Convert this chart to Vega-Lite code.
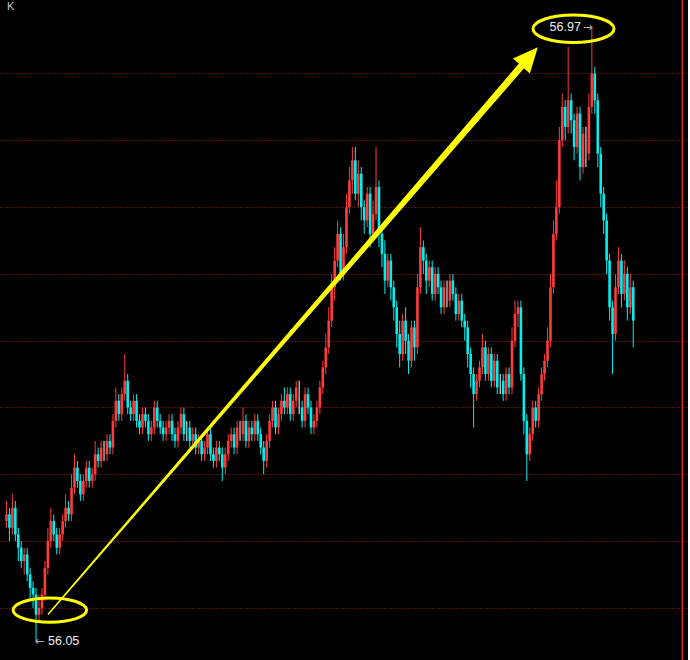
{
"$schema": "https://vega.github.io/schema/vega-lite/v6.json",
"width": 688, "height": 660, "autosize": "none", "padding": 0,
"background": "#000000",
"config": {"view": {"stroke": null}},
"datasets": {
"k": [
{"t":0,"o":56.23,"h":56.26,"l":56.22,"c":56.24},
{"t":1,"o":56.24,"h":56.25,"l":56.20,"c":56.22},
{"t":2,"o":56.22,"h":56.27,"l":56.21,"c":56.25},
{"t":3,"o":56.25,"h":56.26,"l":56.20,"c":56.21},
{"t":4,"o":56.21,"h":56.22,"l":56.17,"c":56.19},
{"t":5,"o":56.19,"h":56.20,"l":56.16,"c":56.17},
{"t":6,"o":56.17,"h":56.19,"l":56.15,"c":56.18},
{"t":7,"o":56.18,"h":56.19,"l":56.14,"c":56.15},
{"t":8,"o":56.15,"h":56.16,"l":56.11,"c":56.13},
{"t":9,"o":56.13,"h":56.14,"l":56.10,"c":56.12},
{"t":10,"o":56.12,"h":56.13,"l":56.05,"c":56.09},
{"t":11,"o":56.09,"h":56.12,"l":56.08,"c":56.10},
{"t":12,"o":56.10,"h":56.13,"l":56.09,"c":56.12},
{"t":13,"o":56.12,"h":56.17,"l":56.11,"c":56.16},
{"t":14,"o":56.16,"h":56.22,"l":56.15,"c":56.20},
{"t":15,"o":56.20,"h":56.25,"l":56.19,"c":56.23},
{"t":16,"o":56.23,"h":56.24,"l":56.20,"c":56.21},
{"t":17,"o":56.21,"h":56.22,"l":56.18,"c":56.19},
{"t":18,"o":56.19,"h":56.22,"l":56.18,"c":56.21},
{"t":19,"o":56.21,"h":56.24,"l":56.20,"c":56.23},
{"t":20,"o":56.23,"h":56.27,"l":56.22,"c":56.25},
{"t":21,"o":56.25,"h":56.26,"l":56.23,"c":56.24},
{"t":22,"o":56.24,"h":56.30,"l":56.23,"c":56.28},
{"t":23,"o":56.28,"h":56.33,"l":56.27,"c":56.31},
{"t":24,"o":56.31,"h":56.32,"l":56.28,"c":56.29},
{"t":25,"o":56.29,"h":56.30,"l":56.26,"c":56.27},
{"t":26,"o":56.27,"h":56.30,"l":56.26,"c":56.29},
{"t":27,"o":56.29,"h":56.32,"l":56.28,"c":56.31},
{"t":28,"o":56.31,"h":56.32,"l":56.28,"c":56.29},
{"t":29,"o":56.29,"h":56.31,"l":56.28,"c":56.30},
{"t":30,"o":56.30,"h":56.35,"l":56.29,"c":56.33},
{"t":31,"o":56.33,"h":56.34,"l":56.31,"c":56.32},
{"t":32,"o":56.32,"h":56.35,"l":56.31,"c":56.34},
{"t":33,"o":56.33,"h":56.35,"l":56.32,"c":56.33},
{"t":34,"o":56.33,"h":56.36,"l":56.32,"c":56.35},
{"t":35,"o":56.35,"h":56.36,"l":56.33,"c":56.34},
{"t":36,"o":56.34,"h":56.39,"l":56.33,"c":56.38},
{"t":37,"o":56.38,"h":56.43,"l":56.37,"c":56.41},
{"t":38,"o":56.41,"h":56.42,"l":56.38,"c":56.39},
{"t":39,"o":56.39,"h":56.43,"l":56.38,"c":56.42},
{"t":40,"o":56.42,"h":56.48,"l":56.41,"c":56.44},
{"t":41,"o":56.44,"h":56.45,"l":56.39,"c":56.40},
{"t":42,"o":56.40,"h":56.41,"l":56.38,"c":56.39},
{"t":43,"o":56.39,"h":56.42,"l":56.38,"c":56.41},
{"t":44,"o":56.41,"h":56.42,"l":56.37,"c":56.38},
{"t":45,"o":56.38,"h":56.39,"l":56.36,"c":56.37},
{"t":46,"o":56.37,"h":56.40,"l":56.36,"c":56.39},
{"t":47,"o":56.39,"h":56.40,"l":56.37,"c":56.38},
{"t":48,"o":56.38,"h":56.39,"l":56.35,"c":56.36},
{"t":49,"o":56.36,"h":56.38,"l":56.35,"c":56.37},
{"t":50,"o":56.37,"h":56.41,"l":56.36,"c":56.40},
{"t":51,"o":56.40,"h":56.41,"l":56.37,"c":56.38},
{"t":52,"o":56.38,"h":56.39,"l":56.36,"c":56.37},
{"t":53,"o":56.37,"h":56.38,"l":56.35,"c":56.36},
{"t":54,"o":56.36,"h":56.38,"l":56.35,"c":56.37},
{"t":55,"o":56.37,"h":56.39,"l":56.36,"c":56.38},
{"t":56,"o":56.38,"h":56.39,"l":56.35,"c":56.36},
{"t":57,"o":56.36,"h":56.37,"l":56.34,"c":56.35},
{"t":58,"o":56.35,"h":56.38,"l":56.34,"c":56.37},
{"t":59,"o":56.37,"h":56.40,"l":56.36,"c":56.39},
{"t":60,"o":56.39,"h":56.40,"l":56.35,"c":56.36},
{"t":61,"o":56.37,"h":56.38,"l":56.35,"c":56.37},
{"t":62,"o":56.37,"h":56.38,"l":56.34,"c":56.35},
{"t":63,"o":56.35,"h":56.37,"l":56.34,"c":56.36},
{"t":64,"o":56.36,"h":56.37,"l":56.33,"c":56.34},
{"t":65,"o":56.34,"h":56.36,"l":56.33,"c":56.35},
{"t":66,"o":56.35,"h":56.36,"l":56.32,"c":56.33},
{"t":67,"o":56.33,"h":56.35,"l":56.32,"c":56.34},
{"t":68,"o":56.34,"h":56.37,"l":56.33,"c":56.36},
{"t":69,"o":56.36,"h":56.37,"l":56.32,"c":56.33},
{"t":70,"o":56.33,"h":56.34,"l":56.31,"c":56.32},
{"t":71,"o":56.32,"h":56.35,"l":56.31,"c":56.34},
{"t":72,"o":56.34,"h":56.35,"l":56.32,"c":56.33},
{"t":73,"o":56.33,"h":56.34,"l":56.29,"c":56.31},
{"t":74,"o":56.31,"h":56.34,"l":56.30,"c":56.33},
{"t":75,"o":56.33,"h":56.36,"l":56.32,"c":56.35},
{"t":76,"o":56.35,"h":56.37,"l":56.34,"c":56.36},
{"t":77,"o":56.36,"h":56.37,"l":56.33,"c":56.34},
{"t":78,"o":56.34,"h":56.38,"l":56.33,"c":56.37},
{"t":79,"o":56.36,"h":56.38,"l":56.35,"c":56.36},
{"t":80,"o":56.36,"h":56.40,"l":56.35,"c":56.38},
{"t":81,"o":56.38,"h":56.39,"l":56.34,"c":56.35},
{"t":82,"o":56.35,"h":56.38,"l":56.34,"c":56.37},
{"t":83,"o":56.37,"h":56.38,"l":56.35,"c":56.36},
{"t":84,"o":56.36,"h":56.39,"l":56.35,"c":56.38},
{"t":85,"o":56.38,"h":56.39,"l":56.35,"c":56.36},
{"t":86,"o":56.36,"h":56.37,"l":56.33,"c":56.34},
{"t":87,"o":56.34,"h":56.35,"l":56.30,"c":56.32},
{"t":88,"o":56.32,"h":56.36,"l":56.31,"c":56.35},
{"t":89,"o":56.35,"h":56.39,"l":56.34,"c":56.38},
{"t":90,"o":56.38,"h":56.41,"l":56.37,"c":56.40},
{"t":91,"o":56.40,"h":56.41,"l":56.36,"c":56.37},
{"t":92,"o":56.37,"h":56.40,"l":56.36,"c":56.39},
{"t":93,"o":56.39,"h":56.42,"l":56.38,"c":56.41},
{"t":94,"o":56.41,"h":56.43,"l":56.39,"c":56.40},
{"t":95,"o":56.40,"h":56.43,"l":56.39,"c":56.42},
{"t":96,"o":56.42,"h":56.43,"l":56.38,"c":56.39},
{"t":97,"o":56.39,"h":56.42,"l":56.38,"c":56.41},
{"t":98,"o":56.41,"h":56.44,"l":56.40,"c":56.43},
{"t":99,"o":56.40,"h":56.44,"l":56.39,"c":56.40},
{"t":100,"o":56.40,"h":56.41,"l":56.37,"c":56.38},
{"t":101,"o":56.38,"h":56.43,"l":56.37,"c":56.42},
{"t":102,"o":56.42,"h":56.43,"l":56.39,"c":56.40},
{"t":103,"o":56.40,"h":56.41,"l":56.36,"c":56.37},
{"t":104,"o":56.37,"h":56.39,"l":56.36,"c":56.38},
{"t":105,"o":56.38,"h":56.41,"l":56.37,"c":56.40},
{"t":106,"o":56.40,"h":56.44,"l":56.39,"c":56.43},
{"t":107,"o":56.43,"h":56.47,"l":56.42,"c":56.46},
{"t":108,"o":56.46,"h":56.51,"l":56.45,"c":56.49},
{"t":109,"o":56.49,"h":56.55,"l":56.48,"c":56.53},
{"t":110,"o":56.53,"h":56.60,"l":56.52,"c":56.58},
{"t":111,"o":56.58,"h":56.64,"l":56.56,"c":56.62},
{"t":112,"o":56.62,"h":56.68,"l":56.61,"c":56.66},
{"t":113,"o":56.66,"h":56.67,"l":56.59,"c":56.60},
{"t":114,"o":56.60,"h":56.66,"l":56.59,"c":56.64},
{"t":115,"o":56.64,"h":56.72,"l":56.63,"c":56.70},
{"t":116,"o":56.70,"h":56.76,"l":56.69,"c":56.74},
{"t":117,"o":56.74,"h":56.79,"l":56.72,"c":56.77},
{"t":118,"o":56.77,"h":56.79,"l":56.71,"c":56.72},
{"t":119,"o":56.72,"h":56.77,"l":56.70,"c":56.75},
{"t":120,"o":56.75,"h":56.76,"l":56.68,"c":56.70},
{"t":121,"o":56.70,"h":56.71,"l":56.66,"c":56.68},
{"t":122,"o":56.68,"h":56.73,"l":56.67,"c":56.72},
{"t":123,"o":56.72,"h":56.73,"l":56.64,"c":56.66},
{"t":124,"o":56.66,"h":56.71,"l":56.65,"c":56.69},
{"t":125,"o":56.69,"h":56.79,"l":56.68,"c":56.73},
{"t":126,"o":56.73,"h":56.74,"l":56.64,"c":56.66},
{"t":127,"o":56.66,"h":56.67,"l":56.61,"c":56.63},
{"t":128,"o":56.63,"h":56.65,"l":56.57,"c":56.59},
{"t":129,"o":56.59,"h":56.63,"l":56.58,"c":56.62},
{"t":130,"o":56.62,"h":56.63,"l":56.56,"c":56.58},
{"t":131,"o":56.58,"h":56.59,"l":56.53,"c":56.55},
{"t":132,"o":56.55,"h":56.56,"l":56.49,"c":56.51},
{"t":133,"o":56.51,"h":56.53,"l":56.46,"c":56.48},
{"t":134,"o":56.48,"h":56.54,"l":56.47,"c":56.53},
{"t":135,"o":56.53,"h":56.55,"l":56.48,"c":56.50},
{"t":136,"o":56.50,"h":56.51,"l":56.45,"c":56.47},
{"t":137,"o":56.47,"h":56.53,"l":56.46,"c":56.52},
{"t":138,"o":56.52,"h":56.53,"l":56.47,"c":56.49},
{"t":139,"o":56.49,"h":56.60,"l":56.48,"c":56.58},
{"t":140,"o":56.58,"h":56.67,"l":56.57,"c":56.64},
{"t":141,"o":56.64,"h":56.65,"l":56.60,"c":56.62},
{"t":142,"o":56.62,"h":56.63,"l":56.57,"c":56.59},
{"t":143,"o":56.59,"h":56.62,"l":56.58,"c":56.61},
{"t":144,"o":56.61,"h":56.62,"l":56.56,"c":56.57},
{"t":145,"o":56.57,"h":56.61,"l":56.56,"c":56.60},
{"t":146,"o":56.60,"h":56.61,"l":56.57,"c":56.58},
{"t":147,"o":56.58,"h":56.59,"l":56.54,"c":56.55},
{"t":148,"o":56.55,"h":56.59,"l":56.54,"c":56.58},
{"t":149,"o":56.56,"h":56.59,"l":56.55,"c":56.56},
{"t":150,"o":56.56,"h":56.60,"l":56.55,"c":56.59},
{"t":151,"o":56.59,"h":56.60,"l":56.56,"c":56.57},
{"t":152,"o":56.57,"h":56.58,"l":56.53,"c":56.54},
{"t":153,"o":56.54,"h":56.57,"l":56.53,"c":56.56},
{"t":154,"o":56.56,"h":56.57,"l":56.52,"c":56.53},
{"t":155,"o":56.53,"h":56.54,"l":56.50,"c":56.52},
{"t":156,"o":56.52,"h":56.53,"l":56.46,"c":56.48},
{"t":157,"o":56.48,"h":56.49,"l":56.43,"c":56.45},
{"t":158,"o":56.45,"h":56.46,"l":56.37,"c":56.42},
{"t":159,"o":56.42,"h":56.45,"l":56.41,"c":56.44},
{"t":160,"o":56.44,"h":56.47,"l":56.43,"c":56.46},
{"t":161,"o":56.46,"h":56.51,"l":56.45,"c":56.49},
{"t":162,"o":56.49,"h":56.50,"l":56.44,"c":56.45},
{"t":163,"o":56.45,"h":56.49,"l":56.44,"c":56.48},
{"t":164,"o":56.48,"h":56.49,"l":56.43,"c":56.44},
{"t":165,"o":56.44,"h":56.48,"l":56.43,"c":56.47},
{"t":166,"o":56.47,"h":56.48,"l":56.42,"c":56.43},
{"t":167,"o":56.44,"h":56.45,"l":56.42,"c":56.44},
{"t":168,"o":56.44,"h":56.45,"l":56.41,"c":56.42},
{"t":169,"o":56.42,"h":56.46,"l":56.41,"c":56.45},
{"t":170,"o":56.45,"h":56.46,"l":56.42,"c":56.43},
{"t":171,"o":56.43,"h":56.52,"l":56.42,"c":56.50},
{"t":172,"o":56.50,"h":56.56,"l":56.49,"c":56.54},
{"t":173,"o":56.54,"h":56.56,"l":56.52,"c":56.55},
{"t":174,"o":56.55,"h":56.56,"l":56.44,"c":56.45},
{"t":175,"o":56.45,"h":56.46,"l":56.36,"c":56.38},
{"t":176,"o":56.38,"h":56.39,"l":56.29,"c":56.33},
{"t":177,"o":56.33,"h":56.37,"l":56.32,"c":56.36},
{"t":178,"o":56.36,"h":56.41,"l":56.35,"c":56.40},
{"t":179,"o":56.40,"h":56.41,"l":56.37,"c":56.38},
{"t":180,"o":56.38,"h":56.43,"l":56.37,"c":56.42},
{"t":181,"o":56.42,"h":56.46,"l":56.41,"c":56.45},
{"t":182,"o":56.45,"h":56.48,"l":56.44,"c":56.47},
{"t":183,"o":56.47,"h":56.52,"l":56.46,"c":56.50},
{"t":184,"o":56.50,"h":56.60,"l":56.49,"c":56.58},
{"t":185,"o":56.58,"h":56.68,"l":56.57,"c":56.66},
{"t":186,"o":56.66,"h":56.74,"l":56.65,"c":56.70},
{"t":187,"o":56.70,"h":56.82,"l":56.69,"c":56.80},
{"t":188,"o":56.80,"h":56.87,"l":56.79,"c":56.85},
{"t":189,"o":56.85,"h":56.86,"l":56.80,"c":56.82},
{"t":190,"o":56.82,"h":56.94,"l":56.81,"c":56.86},
{"t":191,"o":56.86,"h":56.87,"l":56.81,"c":56.83},
{"t":192,"o":56.83,"h":56.84,"l":56.77,"c":56.79},
{"t":193,"o":56.79,"h":56.85,"l":56.78,"c":56.84},
{"t":194,"o":56.84,"h":56.85,"l":56.74,"c":56.76},
{"t":195,"o":56.76,"h":56.82,"l":56.75,"c":56.81},
{"t":196,"o":56.78,"h":56.82,"l":56.76,"c":56.78},
{"t":197,"o":56.78,"h":56.87,"l":56.77,"c":56.85},
{"t":198,"o":56.85,"h":56.97,"l":56.84,"c":56.90},
{"t":199,"o":56.90,"h":56.91,"l":56.84,"c":56.86},
{"t":200,"o":56.86,"h":56.87,"l":56.76,"c":56.78},
{"t":201,"o":56.78,"h":56.79,"l":56.70,"c":56.72},
{"t":202,"o":56.72,"h":56.73,"l":56.66,"c":56.68},
{"t":203,"o":56.68,"h":56.69,"l":56.60,"c":56.62},
{"t":204,"o":56.62,"h":56.63,"l":56.53,"c":56.55},
{"t":205,"o":56.55,"h":56.56,"l":56.45,"c":56.51},
{"t":206,"o":56.51,"h":56.60,"l":56.50,"c":56.58},
{"t":207,"o":56.58,"h":56.64,"l":56.57,"c":56.62},
{"t":208,"o":56.62,"h":56.63,"l":56.55,"c":56.57},
{"t":209,"o":56.57,"h":56.62,"l":56.56,"c":56.60},
{"t":210,"o":56.60,"h":56.61,"l":56.53,"c":56.55},
{"t":211,"o":56.55,"h":56.60,"l":56.54,"c":56.58},
{"t":212,"o":56.58,"h":56.59,"l":56.49,"c":56.53}
],
"arrow": [{"t":14.17,"p":56.0908},{"t":174.17,"p":56.9112}],
"head": [{"t":174.17,"p":56.9112}],
"e1": [{"t":14.67,"p":56.0968}],
"e2": [{"t":191.8,"p":56.967}],
"edge": [{"t":228.6}],
"hi": [{"t":198,"p":56.97,"s":"56.97"}],
"lo": [{"t":10,"p":56.05,"s":"56.05"}],
"lab": [{"t":0.17,"p":57.0,"s":"K"}]
},
"layer": [
{
"data": {"name": "k"},
"mark": {"type": "rule", "strokeWidth": 1},
"encoding": {
"x": {"field": "t", "type": "quantitative", "axis": null, "scale": {"domain": [-0.5, 228.83], "nice": false, "zero": false}},
"y": {"field": "l", "type": "quantitative", "title": null, "scale": {"domain": [56.022, 57.010], "nice": false, "zero": false},
  "axis": {"orient": "right", "values": [56.1,56.2,56.3,56.4,56.5,56.6,56.7,56.8,56.9], "labels": false, "ticks": false, "grid": true, "gridColor": "#b01c1c", "gridDash": [1,2], "gridWidth": 1, "domain": false, "title": null}},
"y2": {"field": "h"},
"color": {"condition": [{"test": "datum.c > datum.o", "value": "#ff3c3c"}, {"test": "datum.c < datum.o", "value": "#00f0f0"}], "value": "#ffffff"}
}
},
{
"data": {"name": "k"},
"mark": {"type": "bar", "size": 2.6},
"encoding": {
"x": {"field": "t", "type": "quantitative", "axis": null},
"y": {"field": "o", "type": "quantitative", "title": null},
"y2": {"field": "c"},
"color": {"condition": [{"test": "datum.c > datum.o", "value": "#ff3c3c"}, {"test": "datum.c < datum.o", "value": "#00f0f0"}], "value": "#ffffff"}
}
},
{
"data": {"name": "edge"},
"mark": {"type": "rule", "color": "#d42a2a", "strokeWidth": 1.5},
"encoding": {
"x": {"field": "t", "type": "quantitative", "axis": null}
}
},
{
"data": {"name": "arrow"},
"mark": {"type": "trail", "color": "#ffff00"},
"encoding": {
"x": {"field": "t", "type": "quantitative", "axis": null},
"y": {"field": "p", "type": "quantitative", "title": null},
"size": {"field": "t", "type": "quantitative", "legend": null, "scale": {"domain": [14.17, 174.17], "range": [1.5, 7], "zero": false}}
}
},
{
"data": {"name": "head"},
"mark": {"type": "point", "shape": "M0,-1 L0.45,0 L-0.45,0 Z", "filled": true, "color": "#ffff00", "opacity": 1, "size": 2500, "angle": 41},
"encoding": {
"x": {"field": "t", "type": "quantitative", "axis": null},
"y": {"field": "p", "type": "quantitative", "title": null}
}
},
{
"data": {"name": "e1"},
"mark": {"type": "point", "shape": "M-1,0 A1,0.33 0 1,1 1,0 A1,0.33 0 1,1 -1,0 Z", "filled": false, "color": "#ffff00", "opacity": 1, "strokeWidth": 3, "size": 5400},
"encoding": {
"x": {"field": "t", "type": "quantitative", "axis": null},
"y": {"field": "p", "type": "quantitative", "title": null}
}
},
{
"data": {"name": "e2"},
"mark": {"type": "point", "shape": "M-1,0 A1,0.34 0 1,1 1,0 A1,0.34 0 1,1 -1,0 Z", "filled": false, "color": "#ffff00", "opacity": 1, "strokeWidth": 3, "size": 6561},
"encoding": {
"x": {"field": "t", "type": "quantitative", "axis": null},
"y": {"field": "p", "type": "quantitative", "title": null}
}
},
{
"data": {"name": "hi"},
"mark": {"type": "text", "align": "right", "baseline": "middle", "dx": -11, "font": "Liberation Sans", "fontSize": 12.5, "color": "#ececec"},
"encoding": {
"x": {"field": "t", "type": "quantitative", "axis": null},
"y": {"field": "p", "type": "quantitative", "title": null},
"text": {"field": "s"}
}
},
{
"data": {"name": "hi"},
"mark": {"type": "text", "align": "right", "baseline": "middle", "dx": 1, "font": "DejaVu Sans", "fontSize": 12, "color": "#b0b0b0", "text": "→"},
"encoding": {
"x": {"field": "t", "type": "quantitative", "axis": null},
"y": {"field": "p", "type": "quantitative", "title": null}
}
},
{
"data": {"name": "lo"},
"mark": {"type": "text", "align": "left", "baseline": "middle", "dx": -1, "font": "DejaVu Sans", "fontSize": 12, "color": "#b0b0b0", "text": "←"},
"encoding": {
"x": {"field": "t", "type": "quantitative", "axis": null},
"y": {"field": "p", "type": "quantitative", "title": null}
}
},
{
"data": {"name": "lo"},
"mark": {"type": "text", "align": "left", "baseline": "middle", "dx": 12, "font": "Liberation Sans", "fontSize": 12.5, "color": "#ececec"},
"encoding": {
"x": {"field": "t", "type": "quantitative", "axis": null},
"y": {"field": "p", "type": "quantitative", "title": null},
"text": {"field": "s"}
}
},
{
"data": {"name": "lab"},
"mark": {"type": "text", "align": "left", "baseline": "middle", "font": "Liberation Sans", "fontSize": 11, "color": "#c8c8c8"},
"encoding": {
"x": {"field": "t", "type": "quantitative", "axis": null},
"y": {"field": "p", "type": "quantitative", "title": null},
"text": {"field": "s"}
}
}
]
}
